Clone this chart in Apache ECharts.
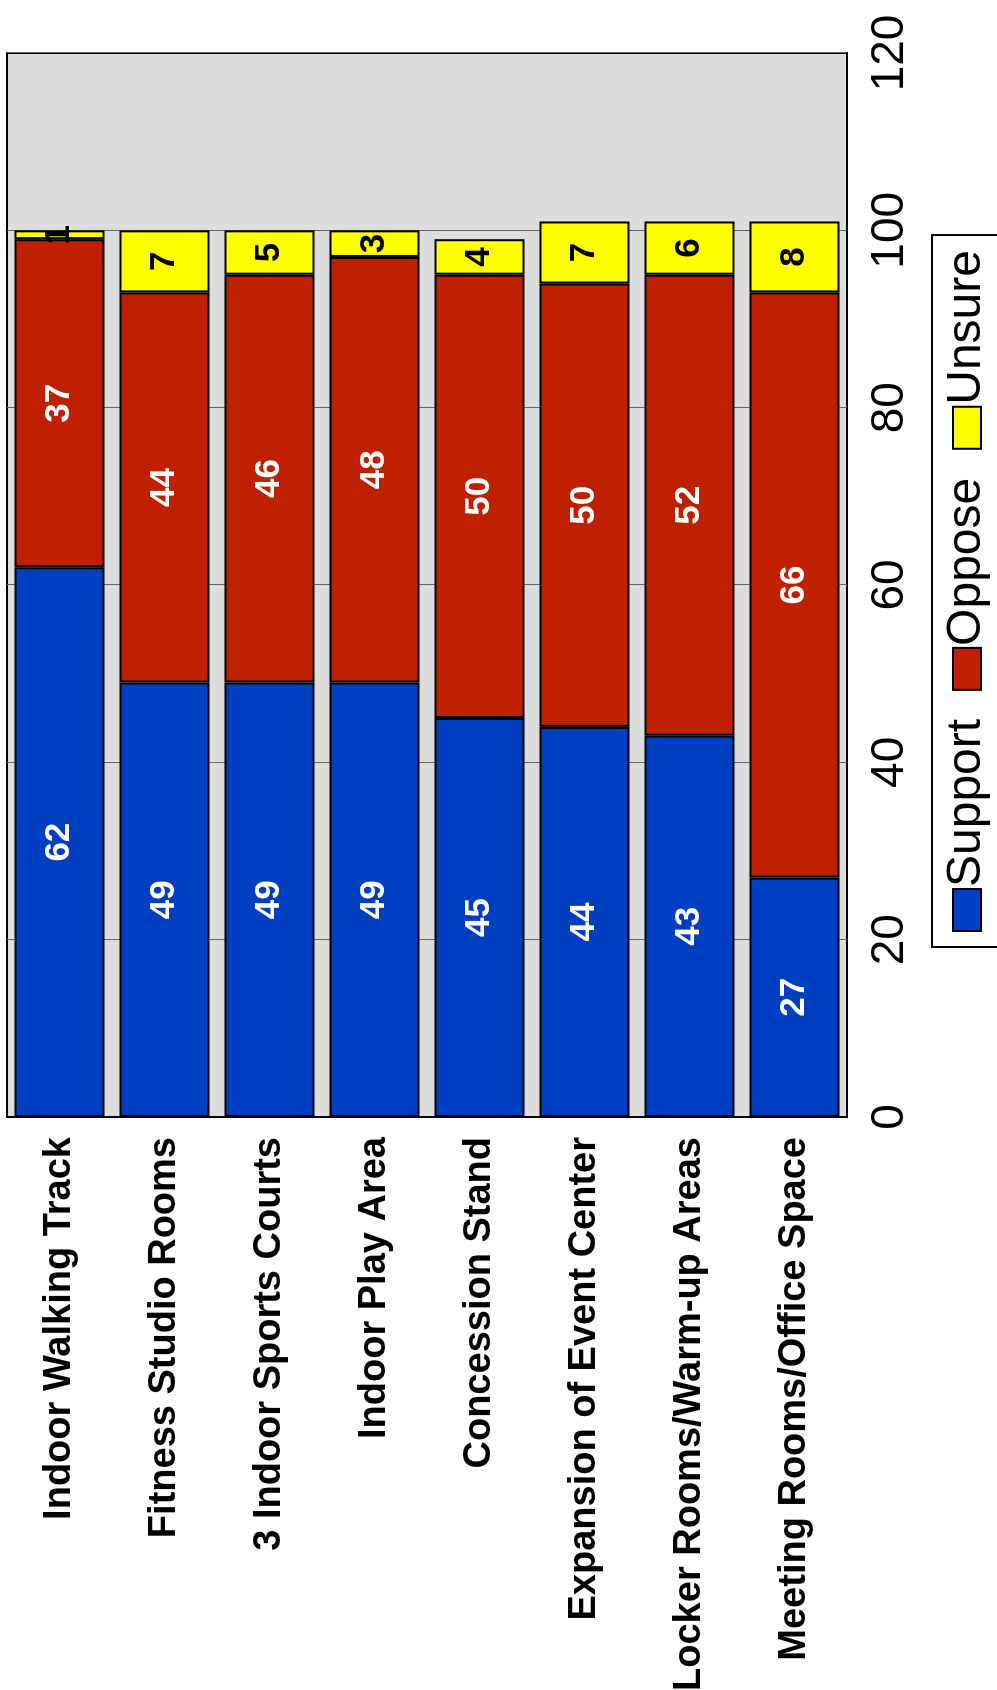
<!DOCTYPE html>
<html>
<head>
<meta charset="utf-8">
<script src="https://cdn.jsdelivr.net/npm/echarts@6/dist/echarts.min.js"></script>
<style>
html, body { margin: 0; padding: 0; width: 997px; height: 1690px; overflow: hidden; background: #fff; }
#chart { position: absolute; left: 0; top: 0; width: 1690px; height: 997px;
  transform-origin: 0 0; transform: translateY(1690px) rotate(-90deg); }
</style>
</head>
<body>
<div id="chart"></div>
<script>
const categories = [
  'Indoor Walking Track',
  'Fitness Studio Rooms',
  '3 Indoor Sports Courts',
  'Indoor Play Area',
  'Concession Stand',
  'Expansion of Event Center',
  'Locker Rooms/Warm-up Areas',
  'Meeting Rooms/Office Space'
];
const support = [62, 49, 49, 49, 45, 44, 43, 27];
const oppose  = [37, 44, 46, 48, 50, 50, 52, 66];
const unsure  = [1, 7, 5, 3, 4, 7, 6, 8];
const seriesNames = ['Support', 'Oppose', 'Unsure'];
const colors = ['#0040c0', '#bf2000', '#ffff00'];
const labelColors = ['#ffffff', '#ffffff', '#000000'];

const FONT = "'Liberation Sans', Arial, Helvetica, sans-serif";
const chart = echarts.init(document.getElementById('chart'), null, { renderer: 'canvas', width: 1690, height: 997 });
const dataSets = [support, oppose, unsure];
chart.setOption({
  animation: false,
  backgroundColor: '#ffffff',
  textStyle: { fontFamily: FONT },
  grid: {
    left: 573, right: 53, top: 7, bottom: 150,
    containLabel: false, outerBoundsMode: 'none',
    show: true, backgroundColor: '#dddddd', borderColor: '#000000', borderWidth: 2
  },
  legend: {
    data: seriesNames,
    orient: 'horizontal',
    left: 743, top: 932,
    itemWidth: 42, itemHeight: 28, itemGap: 28,
    padding: [11, 15, 11, 15],
    borderColor: '#000000', borderWidth: 2, backgroundColor: '#ffffff',
    icon: 'rect',
    textStyle: { fontSize: 48, color: '#000000', fontFamily: FONT, padding: [0, 0, 0, -3] }
  },
  xAxis: {
    type: 'value', min: 0, max: 120, interval: 20,
    axisLine: { show: false },
    axisTick: { show: false },
    axisLabel: { fontSize: 46, color: '#000000', margin: 20, fontFamily: FONT },
    splitLine: { show: true, lineStyle: { color: '#666666', width: 1 } }
  },
  yAxis: {
    type: 'category', data: categories, inverse: true,
    axisLine: { show: true, lineStyle: { color: '#000000', width: 2 } },
    axisTick: { show: false },
    axisLabel: { fontSize: 38, fontWeight: 'bold', color: '#000000', margin: 20, fontFamily: FONT }
  },
  series: seriesNames.map((name, i) => ({
    name: name,
    type: 'bar',
    stack: 'total',
    barWidth: 90,
    data: dataSets[i],
    itemStyle: { color: colors[i], borderColor: '#000000', borderWidth: 2 },
    label: {
      show: true, position: 'inside',
      fontSize: 35, fontWeight: 'bold', color: labelColors[i], fontFamily: FONT
    }
  }))
});
</script>
</body>
</html>
